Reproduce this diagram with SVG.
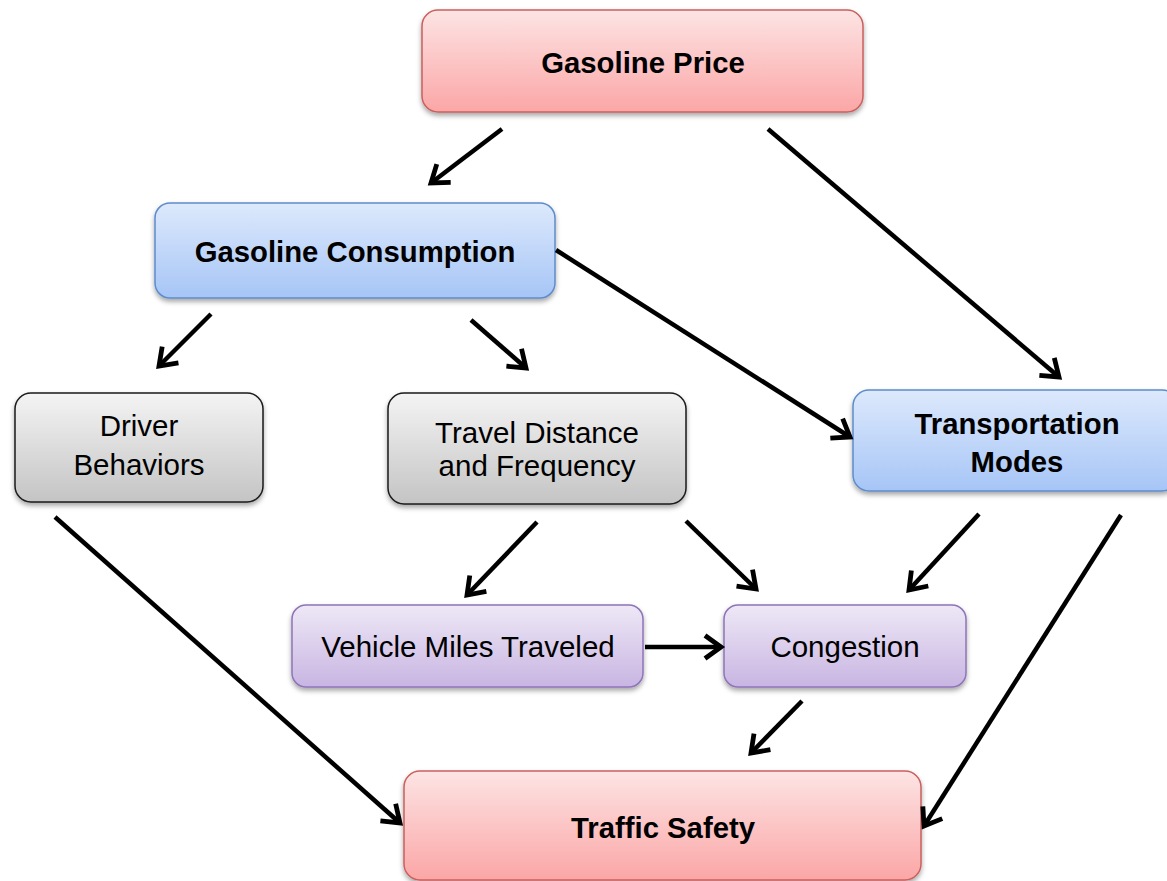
<svg xmlns="http://www.w3.org/2000/svg" width="1167" height="881" viewBox="0 0 1167 881">
<defs>
<linearGradient id="gRed" x1="0" y1="0" x2="0" y2="1"><stop offset="0" stop-color="#fde4e4"/><stop offset="1" stop-color="#fba6a6"/></linearGradient>
<linearGradient id="gBlue" x1="0" y1="0" x2="0" y2="1"><stop offset="0" stop-color="#dde9fc"/><stop offset="1" stop-color="#a6c5f6"/></linearGradient>
<linearGradient id="gGray" x1="0" y1="0" x2="0" y2="1"><stop offset="0" stop-color="#f4f4f4"/><stop offset="1" stop-color="#c4c4c4"/></linearGradient>
<linearGradient id="gPurple" x1="0" y1="0" x2="0" y2="1"><stop offset="0" stop-color="#eee8f6"/><stop offset="1" stop-color="#c8b5e2"/></linearGradient>
<filter id="sh" x="-10%" y="-10%" width="120%" height="130%"><feDropShadow dx="0" dy="3" stdDeviation="2.5" flood-color="#000" flood-opacity="0.35"/></filter>
<marker id="ah" markerUnits="userSpaceOnUse" markerWidth="28" markerHeight="28" viewBox="0 0 28 28" refX="22" refY="14" orient="auto"><path d="M6,2.5 L22,14 L6,25.5" fill="none" stroke="#000" stroke-width="4.8" stroke-linejoin="miter"/></marker>
<style>
.red{fill:url(#gRed);stroke:#c9605d;stroke-width:1.5;filter:url(#sh)}
.blue{fill:url(#gBlue);stroke:#5d8ccb;stroke-width:1.5;filter:url(#sh)}
.gray{fill:url(#gGray);stroke:#1a1a1a;stroke-width:1.5;filter:url(#sh)}
.purple{fill:url(#gPurple);stroke:#8e74b8;stroke-width:1.5;filter:url(#sh)}
text{font-family:"Liberation Sans",Arial,sans-serif;font-size:29.5px;fill:#000;text-anchor:middle}
.b{font-weight:bold;font-size:29.3px}
.c line{stroke:#000;stroke-width:4.5;marker-end:url(#ah)}
</style>
</defs>
<rect width="1167" height="881" fill="#fff"/>
<g id="gasoline-price"><rect class="red" x="422" y="10" width="441" height="102" rx="16"/><text class="b" x="643" y="73">Gasoline Price</text></g>
<g id="gasoline-consumption"><rect class="blue" x="155" y="203" width="400" height="95" rx="15"/><text class="b" x="355" y="262">Gasoline Consumption</text></g>
<g id="driver-behaviors"><rect class="gray" x="15" y="393" width="248" height="109" rx="16"/><text x="139" y="436">Driver</text><text x="139" y="475">Behaviors</text></g>
<g id="travel-distance"><rect class="gray" x="388" y="393" width="298" height="111" rx="16"/><text x="537" y="443">Travel Distance</text><text x="537" y="476">and Frequency</text></g>
<g id="transportation-modes"><rect class="blue" x="853" y="390" width="325" height="101" rx="16"/><text class="b" x="1017" y="434">Transportation</text><text class="b" x="1017" y="472">Modes</text></g>
<g id="vmt"><rect class="purple" x="292" y="605" width="351" height="82" rx="14"/><text x="468" y="657">Vehicle Miles Traveled</text></g>
<g id="congestion"><rect class="purple" x="724" y="605" width="242" height="82" rx="14"/><text x="845" y="657">Congestion</text></g>
<g id="traffic-safety"><rect class="red" x="404" y="771" width="517" height="109" rx="16"/><text class="b" x="663" y="838">Traffic Safety</text></g>
<g id="connectors" class="c">
<line x1="502" y1="129" x2="431" y2="183"/>
<line x1="768" y1="129" x2="1059" y2="377"/>
<line x1="556" y1="250" x2="850" y2="437"/>
<line x1="211" y1="314" x2="159" y2="366"/>
<line x1="471" y1="320" x2="526" y2="368"/>
<line x1="55" y1="517" x2="400" y2="823"/>
<line x1="537" y1="522" x2="467" y2="595"/>
<line x1="686" y1="521" x2="756" y2="589"/>
<line x1="979" y1="514" x2="909" y2="590"/>
<line x1="1121" y1="515" x2="924" y2="826"/>
<line x1="645" y1="647" x2="721" y2="647"/>
<line x1="802" y1="701" x2="751" y2="753"/>
</g>
</svg>
